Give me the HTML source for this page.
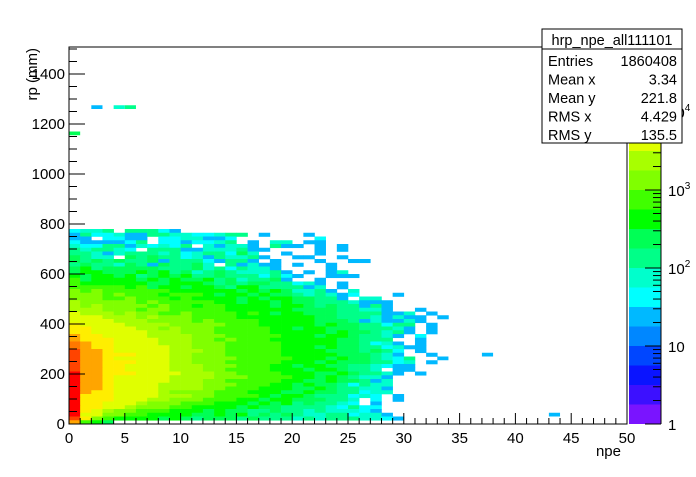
<!DOCTYPE html>
<html><head><meta charset="utf-8">
<style>
body{margin:0;background:#fff;}
svg text{font-family:"Liberation Sans",sans-serif;}
</style></head>
<body>
<svg id="c" width="696" height="472" xmlns="http://www.w3.org/2000/svg"></svg>
<script>
// palette band colours (log z bands, 4 per decade), bottom to top
const palette=["#7a14ff","#3c10ff","#0a14ff","#0046ff","#0087ff","#00b9ff","#00ffff","#00ffcc","#00ff88","#00ff55","#00ff00","#40ff00","#80ff00","#a8ff00","#e0ff00","#ffee00","#ffa500","#ff7800","#ff4400","#ff0000"];
// rows of band levels (char 0-9,a-j; '.' empty), listed top row (765-780 mm) down to row 0 (0-15 mm); columns = npe bins of width 1
const rows=[
"6778.88865",
"5866755887766788.5...5",
"55.6655.6677556.......6",
"6555568.6656678.5.77.55",
"76688576768.75775.855.5.5",
"878876.88855777855....5.5",
"88757888786788697..5..5",
"9877.9898867587785..55..5",
"98989889588865885.5...5..55",
"8988798598897.85755.5..5",
"9a89999988897868775....5",
"9aa999a9a89789877785.5.57",
"a9aa9a89a9a8898886865..555",
"b9aaaa9a9a99a8978895..5",
"baaaaaa99aaa98989988675.5",
"bbbbbab9aa9aa98aa888857.5",
"cbcbbbbbbaaaaaa9a9a97785.7",
"cccbcbbbabbba9aa9a99878756...5",
"cccbbcbbbabaaaa9a9aa99885.77",
"dcccccbcbbbbbaa9aa9a998887555",
"dcdccccbcbbabbaaaa9aa98988585",
"dddcccbccbbbbbaaaaaa999988775..5",
"edddcdccbbcbbbbaba9aa9998888557.5",
"eeedddcdcccbbbbaaaaaaa9988875755.5",
"eeeedddccccbcbbbbaaaaa9998575575",
"feeeeddddcccccbbbaaaaa9a9988688.5",
"ffeeeeddcdcccbbbbbaa9aa99988875.5",
"ffeeeeedddcccbbbbbaaaaa9a998785.5",
"gffeeeeddddcccbbbbbaaa9aa98875.6",
"gfffeeeedddccbcbbbaaaaaa99888..5",
"hgffeeeedddcccbbbbbaaaaa998675.5",
"hgffeeeeeddcccbbbbbaaa9a99886755",
"iggfeeeeedddccbbbbbaaaa9998986.5",
"iggfffeeeddcccbbbbbaaaaa999875..5",
"iggfeeeeeddccccbbbbbaaa9a998768",
"iggfffeeeddcccbbbbbaaa9a9998867.5",
"iggffeeeedddcccbbbaa9aa99887655",
"iggffeeeedddccbbbbaaa9aa9887.55",
"jggfffeeeedddccbbbbaaa99a98875.5",
"jggfeeeeeddddcccbbbbaa9a98775",
"jggfeeeeedddccbbbbbaa99a99857",
"jggfeeeeddddcccbbbaa9a9986877",
"jggfeeeeddddccbbbaaa99a988775",
"jgffeeeedccccbbbaaa99a9988677",
"jfffeeeedddccbbbba9aa9888676.5",
"jfffeeeddcccbbbaa9aa999887.6.5",
"jffeeedcccbbbaaa9a9a898876.5",
"jffeedcccbbaaaa9a99888876866",
"jfedccbbbaaa9a99889887877765",
"jeeccbbaaaa99a9a8989877886775",
"ifcbaaaa9a98999898887878887765",
"gba9"
];
// isolated cells
const extraX=[2,4,5,0,37,33,43];
const extraY=[1260,1260,1260,1155,270,255,30];
const extraLevel=[5,7,8,9,5,5,5];
const xTicks=[0,5,10,15,20,25,30,35,40,45,50];
const yTicks=[0,200,400,600,800,1000,1200,1400];
const statLabels=["Entries","Mean x","Mean y","RMS x","RMS y"];
const statValues=["1860408","3.34","221.8","4.429","135.5"];

const svg=document.getElementById('c');
const NS="http://www.w3.org/2000/svg";
const X0=69,X1=627,Y0=424,Y1=49;
const xs=v=>X0+(v/50)*(X1-X0);
const ys=v=>Y0-(v/1500)*(Y0-Y1);
const zs=l=>Y0-l*19.5;
const BW=1, BH=15;
function el(t,a,p){const e=document.createElementNS(NS,t);for(const k in a)e.setAttribute(k,a[k]);(p||svg).appendChild(e);return e;}
const lv=c=>parseInt(c,36);

const cells=el('g',{});


const n=rows.length;
rows.forEach((s,i)=>{
  const r=n-1-i;
  for(let j=0;j<s.length;j++){
    if(s[j]==='.')continue;
    const x=xs(j*BW),y=ys((r+1)*BH);
    const rc=el('rect',{x:x,y:y,width:xs((j+1)*BW)-x+0.3,height:ys(r*BH)-y+0.3,fill:palette[lv(s[j])]},cells);
    
    
  }
});
extraX.forEach((xv,k)=>{
  const x=xs(xv),y=ys(extraY[k]+BH);
  const rc=el('rect',{x:x,y:y,width:xs(xv+BW)-x,height:ys(extraY[k])-y,fill:palette[extraLevel[k]]},cells);
  
  
});

const fr=el('rect',{x:X0,y:47,width:X1-X0,height:Y0-47,fill:'none',stroke:'#000','stroke-width':1});



const xa=el('g',{});


for(let v=0;v<=50;v++){
  const x=xs(v);const L=v%5===0?11:6;
  el('line',{x1:x,y1:Y0,x2:x,y2:Y0-L,stroke:'#000'},xa);
}
xTicks.forEach(v=>{
  const t=el('text',{x:xs(v),y:443,'font-size':15,'text-anchor':'middle'},xa);
  t.textContent=v;
  
  
});
const xt=el('text',{x:621,y:456,'font-size':15,'text-anchor':'end'});
xt.textContent='npe';



const ya=el('g',{});


for(let v=0;v<=1500;v+=50){
  const y=ys(v);const L=v%200===0?16:8;
  el('line',{x1:X0,y1:y,x2:X0+L,y2:y,stroke:'#000'},ya);
}
yTicks.forEach(v=>{
  const t=el('text',{x:65,y:ys(v)+5,'font-size':15,'text-anchor':'end'},ya);
  t.textContent=v;
  
  
});
const yt=el('text',{x:0,y:0,'font-size':15,'text-anchor':'end',transform:'translate(37,48) rotate(-90)'});
yt.textContent='rp (mm)';



const cb=el('g',{});


palette.forEach((c,l)=>{
  const top=Math.max(47,zs(l+1));const bot=zs(l);
  if(bot<=47)return;
  el('rect',{x:629,y:top,width:32,height:bot-top,fill:c},cb);
});
el('line',{x1:661,y1:47,x2:661,y2:Y0,stroke:'#000'},cb);
for(let d=0;d<5;d++){for(let m=1;m<10;m++){
  const y=Y0-(d+Math.log10(m))*78;if(y<47)continue;
  el('line',{x1:661,y1:y,x2:m===1?645:653,y2:y,stroke:'#000'},cb);
}}
const zl=[["1",0],["10",1],["10","2"],["10","3"],["10","4"]];
zl.forEach((z,d)=>{
  const t=el('text',{x:668,y:Y0-d*78+6,'font-size':15},cb);
  t.textContent=z[0];
  if(d>=2){const s=el('tspan',{dy:-7,'font-size':10},t);s.textContent=z[1];}
  
  
});

const sb=el('g',{});


el('rect',{x:542,y:29,width:140,height:114,fill:'#fff',stroke:'#000'},sb);
el('line',{x1:542,y1:49,x2:682,y2:49,stroke:'#000'},sb);
const st=el('text',{x:612,y:45,'font-size':14.5,'text-anchor':'middle'},sb);
st.textContent='hrp_npe_all111101';


statLabels.forEach((s,i)=>{
  const y=66+i*18.5;
  const a=el('text',{x:548,y:y,'font-size':14.5},sb);a.textContent=s;
  
  
  const b=el('text',{x:677,y:y,'font-size':14.5,'text-anchor':'end'},sb);b.textContent=statValues[i];
  
  
});
</script>
</body></html>
